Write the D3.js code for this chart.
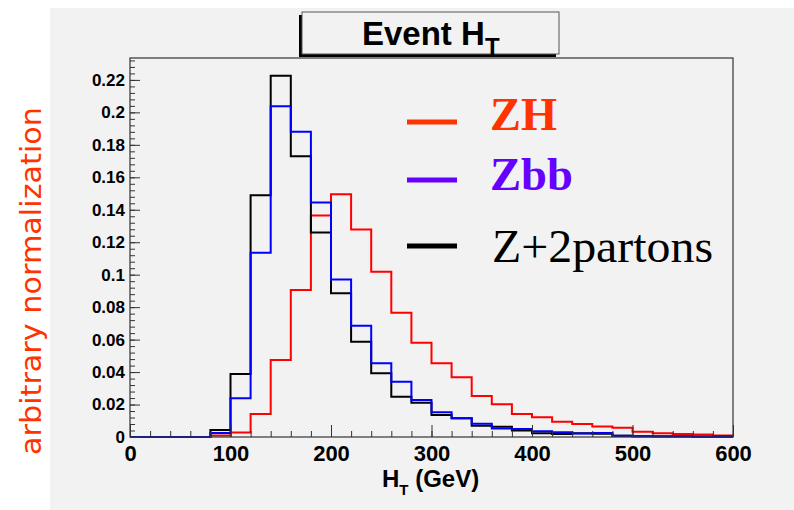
<!DOCTYPE html>
<html>
<head>
<meta charset="utf-8">
<script src="https://cdn.jsdelivr.net/npm/d3@7"></script>
<style>
  body { margin: 0; background: #ffffff; }
  svg { display: block; }
</style>
</head>
<body>
<svg id="chart"></svg>
<script>
// bin layout: 30 bins of 20 GeV from 0 to 600
const binWidth = 20;
const binStarts = d3.range(0, 600, binWidth);

// series values, one per bin
const zhValues = [0, 0, 0, 0, 0.0010, 0.0027, 0.0142, 0.0474, 0.0905, 0.1365,
  0.1496, 0.1279, 0.1018, 0.0766, 0.0581, 0.0454, 0.0368, 0.0252, 0.0202, 0.0142,
  0.0122, 0.0094, 0.0080, 0.0065, 0.0057, 0.0033, 0.0023, 0.0018, 0.0015, 0.0010];
const zbbValues = [0, 0, 0, 0, 0.0025, 0.0238, 0.1135, 0.2038, 0.1880, 0.1445,
  0.0971, 0.0685, 0.0454, 0.0340, 0.0228, 0.0152, 0.0115, 0.0082, 0.0052, 0.0049,
  0.0035, 0.0030, 0.0022, 0.0025, 0.0008, 0.0005, 0.0004, 0.0004, 0.0003, 0.0003];
const z2pValues = [0, 0, 0, 0, 0.0043, 0.0388, 0.1490, 0.2225, 0.1730, 0.1260,
  0.0885, 0.0587, 0.0392, 0.0248, 0.0211, 0.0135, 0.0115, 0.0070, 0.0063, 0.0040,
  0.0023, 0.0018, 0.0023, 0.0020, 0.0008, 0.0004, 0.0003, 0.0003, 0.0002, 0.0002];

// tick values and labels
const xTicks = [0, 100, 200, 300, 400, 500, 600];
const xTickLabels = ["0", "100", "200", "300", "400", "500", "600"];
const yTicks = [0, 0.02, 0.04, 0.06, 0.08, 0.1, 0.12, 0.14, 0.16, 0.18, 0.2, 0.22];
const yTickLabels = ["0", "0.02", "0.04", "0.06", "0.08", "0.1", "0.12", "0.14", "0.16", "0.18", "0.2", "0.22"];

const legendNames = ["ZH", "Zbb", "Z+2partons"];

//Overall page size and frame position
const W = 794, H = 510;
const frame = {left: 130, right: 733, top: 58, bottom: 437};

const svg = d3.select("#chart")
    .attr("width", W)
    .attr("height", H);

//Grey pad behind everything
svg.append("rect")
    .attr("x", 50).attr("y", 8)
    .attr("width", W - 50).attr("height", H - 8)
    .attr("fill", "#f2f2f2");

const xScale = d3.scaleLinear().domain([0, 600]).range([frame.left, frame.right]);
const yScale = d3.scaleLinear().domain([0, 0.2335]).range([frame.bottom, frame.top]);

//Histograms as step outlines, drawn red, black, then blue on top
const stepLine = d3.line()
    .x(d => xScale(d.x))
    .y(d => yScale(d.y))
    .curve(d3.curveStepAfter);

function histPoints(values) {
    const pts = binStarts.map((s, i) => ({x: s, y: values[i]}));
    pts.push({x: 600, y: values[values.length - 1]});
    return pts;
}

const series = [
    {values: zhValues, color: "#ff0000"},
    {values: z2pValues, color: "#000000"},
    {values: zbbValues, color: "#0000ff"}
];

svg.append("g")
    .selectAll("path")
    .data(series)
    .join("path")
    .attr("d", d => stepLine(histPoints(d.values)))
    .attr("fill", "none")
    .attr("stroke", d => d.color)
    .attr("stroke-width", 2);

//Frame around the plot
svg.append("rect")
    .attr("x", frame.left).attr("y", frame.top)
    .attr("width", frame.right - frame.left)
    .attr("height", frame.bottom - frame.top)
    .attr("fill", "none")
    .attr("stroke", "#333")
    .attr("stroke-width", 1.2);

//Y axis: major ticks with labels, minor ticks without
const yAxis = svg.append("g")
    .attr("transform", "translate(" + frame.left + ",0)")
    .call(d3.axisLeft(yScale)
        .tickValues(yTicks)
        .tickFormat((d, i) => yTickLabels[i])
        .tickSizeInner(-10)
        .tickSizeOuter(0)
        .tickPadding(5));
yAxis.select(".domain").remove();
yAxis.selectAll("text")
    .attr("font-family", "Liberation Sans, Arial, sans-serif")
    .attr("font-weight", "bold")
    .attr("font-size", 17)
    .attr("fill", "#000");
yAxis.selectAll("line").attr("stroke", "#333");

const yMinor = svg.append("g")
    .attr("transform", "translate(" + frame.left + ",0)")
    .call(d3.axisLeft(yScale)
        .tickValues(d3.range(0, 0.233, 0.004))
        .tickFormat("")
        .tickSizeInner(-5)
        .tickSizeOuter(0));
yMinor.select(".domain").remove();
yMinor.selectAll("line").attr("stroke", "#333");

//X axis
const xAxis = svg.append("g")
    .attr("transform", "translate(0," + frame.bottom + ")")
    .call(d3.axisBottom(xScale)
        .tickValues(xTicks)
        .tickFormat((d, i) => xTickLabels[i])
        .tickSizeInner(-12)
        .tickSizeOuter(0)
        .tickPadding(8));
xAxis.select(".domain").remove();
xAxis.selectAll("text")
    .attr("font-family", "Liberation Sans, Arial, sans-serif")
    .attr("font-weight", "bold")
    .attr("font-size", 22)
    .attr("fill", "#000");
xAxis.selectAll("line").attr("stroke", "#333");

const xMinor = svg.append("g")
    .attr("transform", "translate(0," + frame.bottom + ")")
    .call(d3.axisBottom(xScale)
        .tickValues(d3.range(0, 601, 20))
        .tickFormat("")
        .tickSizeInner(-6)
        .tickSizeOuter(0));
xMinor.select(".domain").remove();
xMinor.selectAll("line").attr("stroke", "#333");

//X axis title with subscript
const xTitle = svg.append("text")
    .attr("x", 382)
    .attr("y", 487)
    .attr("font-family", "Liberation Sans, Arial, sans-serif")
    .attr("font-weight", "bold")
    .attr("font-size", 24)
    .attr("fill", "#000");
xTitle.append("tspan").text("H");
xTitle.append("tspan").attr("dy", 8).attr("font-size", 15).text("T");
xTitle.append("tspan").attr("dy", -8).text(" (GeV)");

//Y axis title
svg.append("text")
    .attr("transform", "translate(41,281) rotate(-90)")
    .attr("text-anchor", "middle")
    .attr("font-family", "DejaVu Sans, sans-serif")
    .attr("font-size", 29)
    .attr("fill", "#ff3300")
    .attr("textLength", 348)
    .attr("lengthAdjust", "spacingAndGlyphs")
    .text("arbitrary normalization");

//Title box with shadow
svg.append("rect")
    .attr("x", 299).attr("y", 15)
    .attr("width", 257).attr("height", 42)
    .attr("fill", "#000");
svg.append("rect")
    .attr("x", 302).attr("y", 12)
    .attr("width", 257).attr("height", 42)
    .attr("fill", "#f2f2f2")
    .attr("stroke", "#555")
    .attr("stroke-width", 1);
const title = svg.append("text")
    .attr("x", 362)
    .attr("y", 45)
    .attr("font-family", "Liberation Sans, Arial, sans-serif")
    .attr("font-weight", "bold")
    .attr("font-size", 33)
    .attr("fill", "#000");
title.append("tspan").text("Event H");
title.append("tspan").attr("dy", 10).attr("font-size", 24).text("T");

//Legend
const legend = [
    {name: legendNames[0], color: "#ff3300", weight: "bold", y: 122, base: 130, len: 67},
    {name: legendNames[1], color: "#6600ff", weight: "bold", y: 180, base: 190, len: 83},
    {name: legendNames[2], color: "#000000", weight: "normal", y: 246, base: 262, len: 221}
];
const lg = svg.append("g").selectAll("g").data(legend).join("g");
lg.append("line")
    .attr("x1", 407).attr("x2", 457)
    .attr("y1", d => d.y).attr("y2", d => d.y)
    .attr("stroke", d => d.color)
    .attr("stroke-width", 5);
lg.append("text")
    .attr("x", d => d.weight === "bold" ? 490 : 492)
    .attr("y", d => d.base)
    .attr("font-family", "Liberation Serif, Times New Roman, serif")
    .attr("font-weight", d => d.weight)
    .attr("font-size", 47)
    .attr("fill", d => d.color)
    .attr("textLength", d => d.len)
    .attr("lengthAdjust", "spacingAndGlyphs")
    .text(d => d.name);
</script>
</body>
</html>
